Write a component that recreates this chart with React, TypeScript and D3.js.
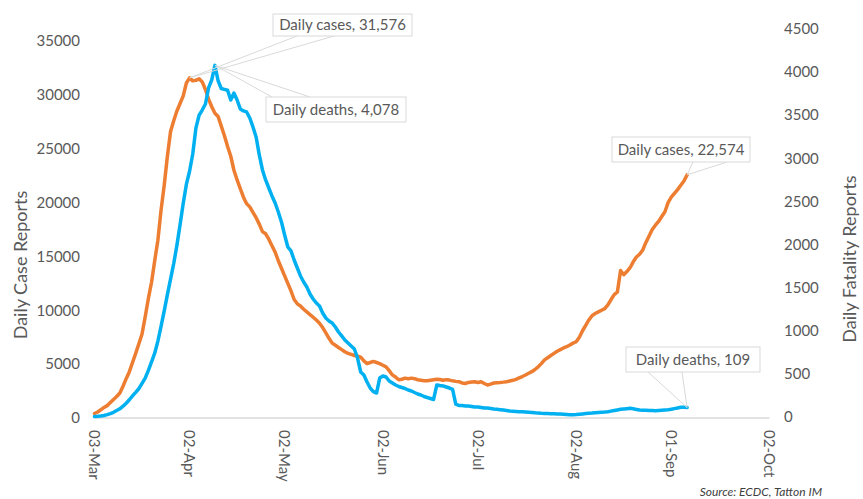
import React, { useEffect } from "react";
import * as d3 from "d3";

const startDate = "2020-03-03";
const endDate = "2020-10-02";
const tickDates = ["2020-03-03", "2020-04-02", "2020-05-02", "2020-06-02", "2020-07-02", "2020-08-02", "2020-09-01", "2020-10-02"];
const leftTicks = [0, 5000, 10000, 15000, 20000, 25000, 30000, 35000];
const rightTicks = [0, 500, 1000, 1500, 2000, 2500, 3000, 3500, 4000, 4500];

// Daily cases from 03-Mar, one per day
const dailyCases = [
  420, 560, 760, 980, 1150, 1430, 1720, 2000, 2320, 2950,
  3650, 4300, 5150, 6000, 6900, 7800, 9400, 11100, 12600, 14600,
  16500, 19300, 21600, 24300, 26600, 27600, 28500, 29200, 29900, 31100,
  31576, 31300, 31350, 31500, 31200, 30500, 29600, 28900, 28300, 28000,
  27100, 26200, 25200, 24300, 23000, 22100, 21300, 20500, 19900, 19600,
  19100, 18600, 18000, 17300, 17100, 16600, 16000, 15400, 14600, 13900,
  13200, 12500, 11800, 11000, 10600, 10400, 10100, 9850, 9600, 9350,
  9100, 8800, 8400, 7900, 7400, 6950, 6750, 6550, 6350, 6150,
  6000, 5900, 5800, 5750, 5650, 5300, 5050, 5150, 5250, 5150,
  5050, 4900, 4750, 4400, 4000, 3800, 3550, 3600, 3700, 3650,
  3700, 3650, 3550, 3500, 3450, 3450, 3500, 3550, 3600, 3580,
  3500, 3560, 3520, 3450, 3400, 3370, 3250, 3200, 3300, 3350,
  3370, 3300, 3370, 3200, 3060, 3150, 3250, 3280, 3300, 3330,
  3370, 3430, 3500, 3590, 3720, 3850, 3990, 4150, 4300, 4500,
  4750, 5050, 5400, 5600, 5800, 6000, 6200, 6350, 6500, 6620,
  6780, 6950, 7080, 7500, 8100, 8600, 9100, 9500, 9700, 9850,
  10000, 10150, 10500, 11000, 11450, 11700, 13700, 13300, 13600, 13950,
  14500, 14950, 15200, 15600, 16300, 16900, 17500, 17900, 18250, 18700,
  19150, 20000, 20500, 20850, 21200, 21600, 22000, 22574,
];

// Daily deaths from 03-Mar, one per day
const dailyDeaths = [
  5, 8, 12, 18, 28, 40, 55, 75, 95, 125,
  160, 200, 245, 285, 330, 390, 450, 540, 640, 740,
  880, 1050, 1230, 1420, 1600, 1780, 1990, 2230, 2480, 2700,
  2850, 3050, 3350, 3500, 3560, 3630, 3816, 3909, 4078, 3900,
  3810, 3800, 3790, 3677, 3758, 3677, 3573, 3550, 3538, 3468,
  3364, 3248, 3039, 2865, 2749, 2656, 2564, 2482, 2378, 2262,
  2111, 1972, 1926, 1821, 1728, 1636, 1566, 1508, 1427, 1369,
  1322, 1288, 1206, 1148, 1114, 1090, 1044, 986, 940, 893,
  858, 824, 789, 684, 522, 487, 406, 336, 293, 278,
  452, 475, 464, 417, 394, 371, 354, 342, 331, 313,
  302, 284, 267, 255, 238, 226, 215, 203, 371, 365,
  360, 348, 336, 320, 150, 133, 133, 128, 128, 122,
  116, 116, 110, 104, 104, 99, 93, 90, 85, 80,
  75, 70, 68, 65, 62, 60, 58, 55, 52, 48,
  45, 43, 42, 40, 38, 37, 36, 35, 33, 30,
  27, 25, 28, 32, 36, 40, 43, 46, 50, 53,
  56, 58, 61, 68, 75, 82, 89, 93, 97, 101,
  95, 88, 81, 79, 77, 75, 74, 73, 76, 79,
  82, 85, 89, 97, 105, 113, 112, 109,
];

const W = 863;
const H = 499;
const FONT = "Lato, 'Open Sans', sans-serif";
const TXT = "#595959";
const ORANGE = "#ED7D31";
const BLUE = "#00B0F0";
const LEADER = "#d9d9d9";

export default function App() {
  useEffect(() => {
    document.body.style.margin = "0";
  }, []);

  const parse = d3.utcParse("%Y-%m-%d");
  const t0 = parse(startDate) as Date;
  const x = d3.scaleUtc().domain([t0, parse(endDate) as Date]).range([94.5, 769.5]);
  const yL = d3.scaleLinear().domain([0, 35000]).range([418, 41]);
  const yR = d3.scaleLinear().domain([0, 4500]).range([417, 29]);
  const fmt = d3.utcFormat("%d-%b");

  const casePts = dailyCases.map((v, i) => [x(d3.utcDay.offset(t0, i)), yL(v)] as [number, number]);
  const deathPts = dailyDeaths.map((v, i) => [x(d3.utcDay.offset(t0, i)), yR(v)] as [number, number]);
  const line = d3.line();

  const casePeakI = dailyCases.indexOf(d3.max(dailyCases) as number);
  const deathPeakI = dailyDeaths.indexOf(d3.max(dailyDeaths) as number);
  const cp = casePts[casePeakI];
  const dp = deathPts[deathPeakI];
  const cl = casePts[casePts.length - 1];
  const dl = deathPts[deathPts.length - 1];
  const n = d3.format(",");

  const callouts = [
    { label: `Daily cases, ${n(dailyCases[casePeakI])}`, bx: 273, by: 14, bw: 139, bh: 22, p: cp, a: [297, 334], edge: "bottom" },
    { label: `Daily deaths, ${n(dailyDeaths[deathPeakI])}`, bx: 266, by: 97, bw: 140, bh: 25, p: dp, a: [272, 310], edge: "top" },
    { label: `Daily cases, ${n(dailyCases[dailyCases.length - 1])}`, bx: 612, by: 137, bw: 138, bh: 25, p: cl, a: [693, 727], edge: "bottom" },
    { label: `Daily deaths, ${n(dailyDeaths[dailyDeaths.length - 1])}`, bx: 626, by: 347, bw: 134, bh: 25, p: dl, a: [648, 682], edge: "bottom" },
  ];

  return (
    <svg width={W} height={H} style={{ display: "block", background: "#fff" }} fontFamily={FONT}>
      {/* x axis line */}
      <line x1={x(t0)} x2={x(parse(endDate) as Date)} y1={418} y2={418} stroke="#d9d9d9" strokeWidth={1.3} />

      {/* left ticks */}
      {leftTicks.map((t) => (
        <text key={"l" + t} x={80} y={yL(t)} dy="0.35em" textAnchor="end" fontSize={15} fill={TXT}>
          {t}
        </text>
      ))}
      {/* right ticks */}
      {rightTicks.map((t) => (
        <text key={"r" + t} x={784} y={yR(t)} dy="0.35em" textAnchor="start" fontSize={15} fill={TXT}>
          {t}
        </text>
      ))}
      {/* x ticks */}
      {tickDates.map((s) => {
        const d = parse(s) as Date;
        const xx = x(d);
        return (
          <text key={s} transform={`translate(${xx},430) rotate(90)`} dy="0.35em" textAnchor="start" fontSize={15} fill={TXT}>
            {fmt(d)}
          </text>
        );
      })}

      {/* axis titles */}
      <text transform="translate(27,265) rotate(-90)" textAnchor="middle" fontSize={18} fill={TXT}>
        Daily Case Reports
      </text>
      <text transform="translate(856,259) rotate(-90)" textAnchor="middle" fontSize={18} fill={TXT}>
        Daily Fatality Reports
      </text>

      {/* series */}
      <path d={line(casePts) as string} fill="none" stroke={ORANGE} strokeWidth={3.5} strokeLinejoin="round" strokeLinecap="round" />
      <path d={line(deathPts) as string} fill="none" stroke={BLUE} strokeWidth={3.5} strokeLinejoin="round" strokeLinecap="round" />

      {/* callouts */}
      {callouts.map((c, i) => {
        const ey = c.edge === "bottom" ? c.by + c.bh : c.by;
        return (
          <g key={i}>
            <line x1={c.a[0]} y1={ey} x2={c.p[0]} y2={c.p[1]} stroke={LEADER} strokeWidth={1} />
            <line x1={c.a[1]} y1={ey} x2={c.p[0]} y2={c.p[1]} stroke={LEADER} strokeWidth={1} />
            <rect x={c.bx} y={c.by} width={c.bw} height={c.bh} fill="#fff" stroke={LEADER} strokeWidth={1} />
            <text x={c.bx + c.bw / 2} y={c.by + c.bh / 2} dy="0.35em" textAnchor="middle" fontSize={15} fill={TXT}>
              {c.label}
            </text>
          </g>
        );
      })}

      {/* source */}
      <text x={822} y={496} textAnchor="end" fontSize={12} fontStyle="italic" fill="#404040">
        Source: ECDC, Tatton IM
      </text>
    </svg>
  );
}
